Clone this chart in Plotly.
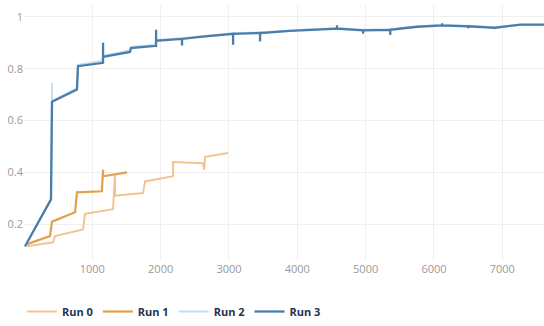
import plotly.graph_objects as go

run0_x = [44, 425, 454, 864, 893, 1303, 1332, 1332, 1742, 1772, 2181, 2181, 2621, 2636, 2650, 2987]
run0_y = [0.115, 0.13, 0.154, 0.18, 0.24, 0.258, 0.39, 0.31, 0.32, 0.365, 0.385, 0.44, 0.435, 0.41, 0.46, 0.475]

run1_x = [44, 380, 410, 747, 775, 1140, 1157, 1157, 1508]
run1_y = [0.123, 0.154, 0.21, 0.246, 0.323, 0.327, 0.41, 0.385, 0.40]

run2_x = [15, 395, 410, 410, 775, 790, 1140, 1157, 1550, 1566, 1918, 1933, 2313, 2577, 3060, 3455, 3895,
          4580, 4963, 5360, 5750, 6120, 6500, 6896, 7262, 7613]
run2_y = [0.112, 0.296, 0.745, 0.675, 0.725, 0.815, 0.83, 0.85, 0.87, 0.885, 0.892, 0.91, 0.918, 0.925, 0.937,
          0.94, 0.948, 0.957, 0.95, 0.952, 0.963, 0.968, 0.966, 0.96, 0.97, 0.97]

run3_x = [15, 395, 410, 775, 790, 1140, 1157, 1157, 1157, 1550, 1566, 1918, 1933, 1933, 1933, 2313, 2313,
          2313, 2577, 3060, 3060, 3060, 3455, 3455, 3455, 3895, 4580, 4580, 4580, 4963, 4963, 4963, 5360,
          5360, 5360, 5750, 6120, 6120, 6120, 6500, 6500, 6500, 6896, 6896, 6896, 7262, 7262, 7262, 7613]
run3_y = [0.115, 0.296, 0.673, 0.72, 0.81, 0.823, 0.823, 0.9, 0.846, 0.865, 0.88, 0.888, 0.888, 0.95, 0.908,
          0.915, 0.89, 0.915, 0.923, 0.935, 0.893, 0.935, 0.938, 0.905, 0.938, 0.946, 0.955, 0.968, 0.955, 0.948,
          0.935, 0.948, 0.95, 0.93, 0.95, 0.962, 0.967, 0.976, 0.967, 0.964, 0.956, 0.964, 0.958, 0.953,
          0.958, 0.97, 0.974, 0.97, 0.97]

names = ["Run 0", "Run 1", "Run 2", "Run 3"]
colors = ["#f3c58e", "#e3a050", "#c9ddf0", "#4a7eaa"]
widths = [2, 2.2, 2, 2.3]

fig = go.Figure()
for name, xs, ys, c, w in zip(names, [run0_x, run1_x, run2_x, run3_x], [run0_y, run1_y, run2_y, run3_y], colors, widths):
    fig.add_trace(go.Scatter(x=xs, y=ys, mode="lines", name=name, line=dict(color=c, width=w)))

fig.update_layout(
    width=544, height=326,
    margin=dict(l=24, r=0, t=5, b=64),
    paper_bgcolor="white", plot_bgcolor="white",
    font=dict(family="Open Sans", size=11, color="#999999"),
    xaxis=dict(range=[0, 7610], tickvals=[1000, 2000, 3000, 4000, 5000, 6000, 7000],
               showgrid=True, gridcolor="#efefef", zeroline=False, showline=False,
               tickfont=dict(size=11, color="#9a9a9a")),
    yaxis=dict(range=[0.058, 1.046], tickvals=[0.2, 0.4, 0.6, 0.8, 1], ticktext=["0.2", "0.4", "0.6", "0.8", "1"],
               showgrid=True, gridcolor="#efefef", zeroline=False, showline=False,
               tickfont=dict(size=11, color="#9a9a9a")),
    legend=dict(orientation="h", x=-0.004, xanchor="left", y=-0.195, yanchor="middle",
                font=dict(size=11, color="#22344f", family="Open Sans", weight="bold"), itemwidth=30,
                tracegroupgap=0),
    showlegend=True,
)

fig.write_html("out.html", config={"displayModeBar": False},
               post_script="document.body.style.margin='0px';")
